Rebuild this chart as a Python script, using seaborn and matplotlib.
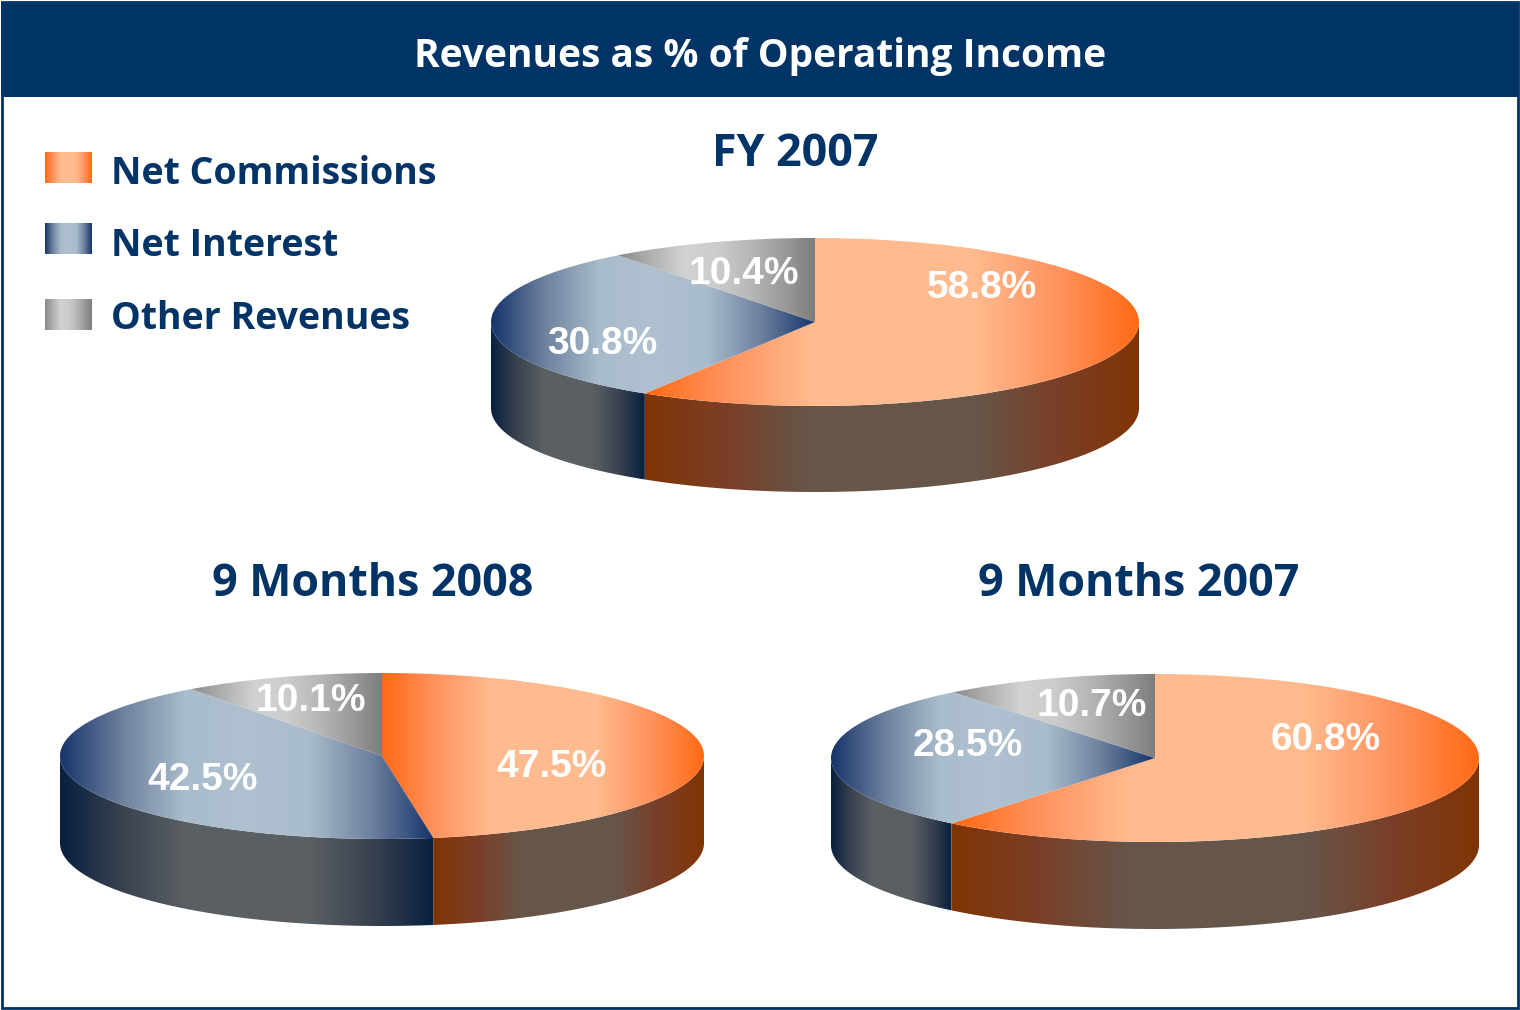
import numpy as np
import matplotlib
matplotlib.use("Agg")
import matplotlib.pyplot as plt
from matplotlib.patches import Rectangle, Polygon
import seaborn as sns

# data
main_title = "Revenues as % of Operating Income"
categories = ["Net Commissions", "Net Interest", "Other Revenues"]
pie_titles = ["FY 2007", "9 Months 2008", "9 Months 2007"]
fy_2007 = [58.8, 30.8, 10.4]
nine_2008 = [47.5, 42.5, 10.1]
nine_2007 = [60.8, 28.5, 10.7]

W, H = 1520, 1010
NAVY = "#003366"
HEAD_FONT = ["Open Sans", "DejaVu Sans"]

sns.set_theme(style="white")
plt.rcParams["font.family"] = ["DejaVu Sans"]


def ramp(*stops):
    return sns.blend_palette(list(stops), 256, as_cmap=True)


# gradients for the tops and the walls
top_ramps = [
    ramp("#FF6A14", "#FF935F", "#FFBA8E", "#FFBC90", "#FFBA8E", "#FF935F", "#FF6A14"),
    ramp("#17346C", "#6E819E", "#A9BCCC", "#AFC1D0", "#A9BCCC", "#6E819E", "#17346C"),
    ramp("#8A8A8A", "#B0B0B0", "#D2D2D2", "#CCCCCC", "#B8B8B8", "#9C9C9C", "#7E7E7E"),
]
wall_ramps = [
    ramp("#803404", "#7A3F28", "#66564A", "#66564A", "#66564A", "#7A3F28", "#803404"),
    ramp("#08203F", "#3A4250", "#5A5F63", "#5A5F63", "#5A5F63", "#3A4250", "#08203F"),
    ramp("#444444", "#666666", "#444444"),
]
grad = np.linspace(0, 1, 256)[None, :]

fig = plt.figure(figsize=(W / 100, H / 100), dpi=100, facecolor="white")

# page: frame, header, legend
bg = fig.add_axes([0, 0, 1, 1])
bg.axis("off")
bg.add_patch(Rectangle((2, 2), 1516, 1006, fc="white", ec=NAVY, lw=2))
bg.add_patch(Rectangle((1, 2), 1518, 95, fc=NAVY, ec="none"))
swatch_tops = [152, 223, 299]
label_y = [174, 246, 319]
for cat, top, ly, cmap in zip(categories, swatch_tops, label_y, top_ramps):
    bg.imshow(grad, cmap=cmap, extent=(45, 92, top + 31, top), aspect="auto", zorder=3)
    bg.text(111, ly, cat, color=NAVY, fontsize=27, fontweight="bold",
            fontfamily=HEAD_FONT, ha="left", va="center")
bg.set_xlim(0, W)
bg.set_ylim(H, 0)


def draw_pie(values, cx, cy, rx, ry, depth):
    # axes covers the ellipse plus the wall below it
    ax = fig.add_axes([(cx - rx) / W, 1 - (cy + ry + depth) / H,
                       2 * rx / W, (2 * ry + depth) / H])
    wedges, _ = ax.pie(values, startangle=90, counterclock=False, radius=1,
                       wedgeprops=dict(fc="none", ec="none", lw=0))
    d = depth / ry
    for wedge, top_ramp, wall_ramp in zip(wedges, top_ramps, wall_ramps):
        t = np.radians(np.linspace(wedge.theta1, wedge.theta2, 300))
        xs = np.r_[np.cos(t), 0]
        im = ax.imshow(grad, cmap=top_ramp, aspect="auto", zorder=3,
                       extent=(xs.min(), xs.max(), -1, 1))
        im.set_clip_path(wedge)
        # front wall only where the slice faces the viewer
        lo, hi = max(wedge.theta1, -180), min(wedge.theta2, 0)
        if hi > lo:
            a = np.radians(np.linspace(lo, hi, 300))
            upper = np.c_[np.cos(a), np.sin(a)]
            lower = upper[::-1] - [0, d]
            wall = Polygon(np.r_[upper, lower], fc="none", ec="none",
                           transform=ax.transData)
            ax.add_patch(wall)
            im2 = ax.imshow(grad, cmap=wall_ramp, aspect="auto", zorder=2,
                            extent=(np.cos(a).min(), np.cos(a).max(), -1 - d, 0))
            im2.set_clip_path(wall)
    ax.set_aspect("auto")
    ax.set_xlim(-1, 1)
    ax.set_ylim(-1 - d, 1)
    ax.axis("off")


draw_pie(fy_2007, 815, 322, 324, 84, 86)
draw_pie(nine_2008, 382, 756, 322, 83, 87)
draw_pie(nine_2007, 1155, 758, 324, 84, 87)


def px_text(x, y, s, **kw):
    fig.text(x / W, 1 - y / H, s, ha="center", va="center", **kw)


px_text(760, 57, main_title, color="white", fontsize=28, fontweight="bold",
        fontfamily=HEAD_FONT)
title_pos = [(795, 155), (373, 585), (1139, 585)]
for (x, y), s in zip(title_pos, pie_titles):
    px_text(x, y, s, color=NAVY, fontsize=32.2, fontweight="bold", fontfamily=HEAD_FONT)

label_pos = [
    [(982, 288), (602, 344), (744, 274)],
    [(552, 767), (203, 780), (311, 701)],
    [(1326, 740), (968, 746), (1092, 706)],
]
for vals, positions in zip([fy_2007, nine_2008, nine_2007], label_pos):
    for v, (x, y) in zip(vals, positions):
        px_text(x, y, f"{v:.1f}%", color="white", fontsize=28, fontweight="bold",
                fontfamily="Liberation Sans")

fig.savefig("out.png", dpi=100)
